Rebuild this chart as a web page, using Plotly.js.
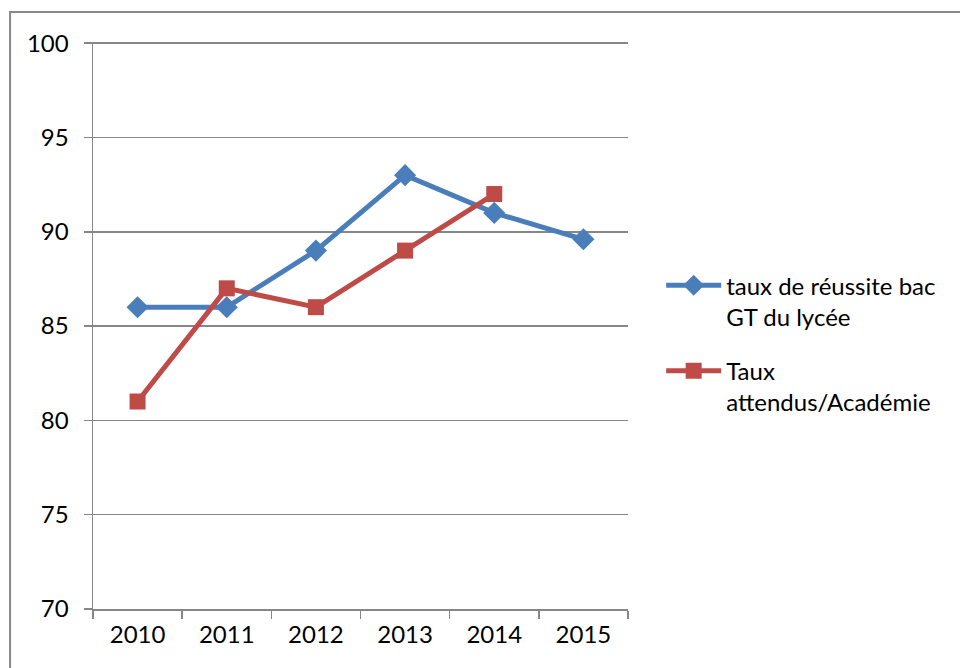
<!DOCTYPE html>
<html>
<head>
<meta charset="utf-8">
<script src="https://cdn.plot.ly/plotly-3.0.1.min.js"></script>
<style>html,body{margin:0;padding:0;background:#fff;}#chart{width:960px;height:668px;}</style>
</head>
<body>
<div id="chart"></div>
<script>
const years = ['2010', '2011', '2012', '2013', '2014', '2015'];
const lyceeRate = [86, 86, 89, 93, 91, 89.6];
const yearsAcad = ['2010', '2011', '2012', '2013', '2014'];
const academieRate = [81, 87, 86, 89, 92];
const seriesNames = ['taux de réussite bac<br>GT du lycée', 'Taux<br>attendus/Académie'];
const yTicks = [70, 75, 80, 85, 90, 95, 100];

const FONT = 'Lato, "Open Sans", sans-serif';
const data = [
  {
    x: years, y: lyceeRate, name: seriesNames[0], legendgroup: 'a', type: 'scatter', mode: 'lines+markers',
    line: {color: '#4A7EBB', width: 5},
    marker: {symbol: 'diamond', size: 17, color: '#4A7EBB'}
  },
  {
    x: yearsAcad, y: academieRate, name: seriesNames[1], legendgroup: 'b', type: 'scatter', mode: 'lines+markers',
    line: {color: '#BE4B48', width: 5},
    marker: {symbol: 'square', size: 16, color: '#BE4B48'}
  }
];
const layout = {
  width: 960, height: 668,
  margin: {l: 93, r: 332, t: 42, b: 59},
  paper_bgcolor: '#fff', plot_bgcolor: '#fff',
  font: {family: FONT, size: 24, color: '#000'},
  showlegend: true,
  legend: {x: 1.062, y: 0.61, xanchor: 'left', yanchor: 'top', valign: 'top',
           font: {family: FONT, size: 24, color: '#000'}, itemwidth: 55, tracegroupgap: 20,
           bgcolor: 'rgba(0,0,0,0)'},
  xaxis: {
    type: 'category', categoryarray: years, range: [-0.5, 5.5],
    showgrid: false, showline: true, linecolor: '#868686', linewidth: 1.5,
    ticks: 'outside', tickson: 'boundaries', ticklen: 8, tickcolor: '#868686', tickwidth: 1.5,
    ticklabelstandoff: 4,
    tickfont: {family: FONT, size: 24, color: '#000'}, zeroline: false, fixedrange: true
  },
  yaxis: {
    range: [70, 100.06], tickvals: yTicks, ticktext: yTicks.map(String),
    showgrid: true, gridcolor: '#868686', gridwidth: 1.5,
    showline: true, linecolor: '#868686', linewidth: 1.5,
    ticks: 'outside', ticklen: 8, tickcolor: '#868686', tickwidth: 1.5,
    ticklabelstandoff: 10,
    tickfont: {family: FONT, size: 24, color: '#000'}, zeroline: false, fixedrange: true
  },
  shapes: [
    {type: 'rect', xref: 'paper', yref: 'paper', x0: -0.155, x1: 1.7, y0: -0.2, y1: 1.053,
     line: {color: '#888', width: 2}, fillcolor: 'rgba(0,0,0,0)', layer: 'below'}
  ]
};
Plotly.newPlot('chart', data, layout, {displayModeBar: false, staticPlot: true});
</script>
</body>
</html>
